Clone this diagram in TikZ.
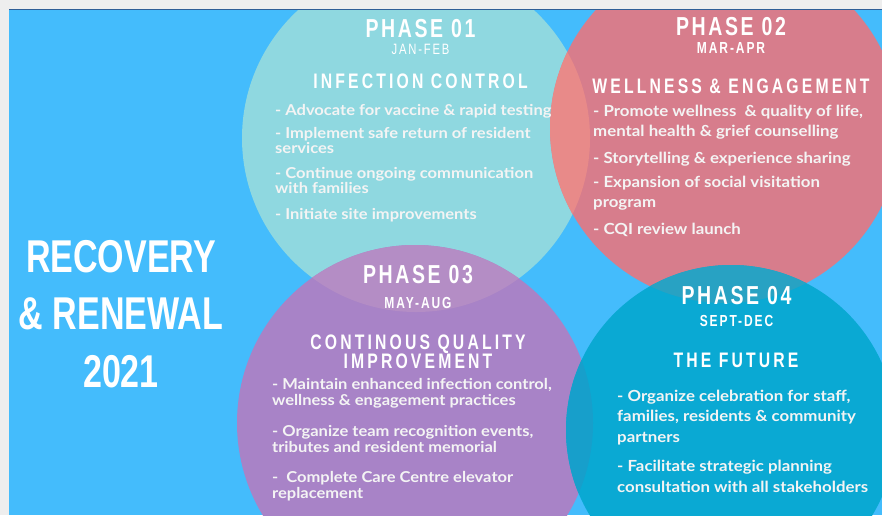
\documentclass[tikz,border=0pt]{standalone}
\usepackage{fontspec}
\setmainfont[FakeStretch=1.1]{Lato}
\newfontfamily\titlefont[FakeStretch=0.74]{Liberation Sans}
\newfontfamily\phasefont[FakeStretch=0.75,LetterSpace=10]{Liberation Sans}
\newfontfamily\datefont[FakeStretch=0.75,LetterSpace=12]{Liberation Sans}
\newfontfamily\subfont[FakeStretch=0.75,LetterSpace=15]{Liberation Sans}
\definecolor{framegray}{HTML}{EEEEEE}
\definecolor{topline}{HTML}{2F5E96}
\definecolor{bgblue}{HTML}{44BCFC}
\definecolor{cteal}{HTML}{8FD8E0}
\definecolor{cpink}{HTML}{D77D8C}
\definecolor{ctp}{HTML}{E88A89}
\definecolor{cpurple}{HTML}{A883C7}
\definecolor{ctu}{HTML}{B48DC5}
\definecolor{cblue}{HTML}{0AA9D3}
\definecolor{cpb}{HTML}{28A2C3}
\definecolor{cub}{HTML}{179FCB}
\definecolor{bodywhite}{HTML}{F4F4F4}
\tikzset{
  body/.style={anchor=base west, text=bodywhite, inner sep=0pt, align=left},
  bodyA/.style={body, font=\bfseries\fontsize{15}{12.5}\selectfont},
  bodyB/.style={body, font=\bfseries\fontsize{15.3}{20}\selectfont},
  bodyC/.style={body, font=\bfseries\fontsize{15}{16}\selectfont},
  bodyD/.style={body, font=\bfseries\fontsize{15.3}{20.5}\selectfont},
  phasehead/.style={anchor=base, text=white, inner sep=0pt, font=\phasefont\bfseries\fontsize{26}{26}\selectfont},
  datehead/.style={anchor=base, text=white, inner sep=0pt, font=\datefont\bfseries\fontsize{16}{16}\selectfont},
  datelight/.style={anchor=base, text=white, inner sep=0pt, font=\datefont\fontsize{15}{15}\selectfont},
  subhead/.style={anchor=base, text=white, inner sep=0pt, align=center, font=\subfont\bfseries\fontsize{21}{19}\selectfont},
}
\begin{document}
\begin{tikzpicture}[x=1pt,y=-1pt]
\useasboundingbox (0,0) rectangle (882,515);
\fill[framegray] (0,0) rectangle (882,515);
\fill[bgblue] (9,9) rectangle (882,515);
\begin{scope}
  \clip (9,9) rectangle (882,515);
  \fill[cteal] (416,138) circle[radius=174pt];
  \fill[cpink] (725,128) circle[radius=175pt];
  \begin{scope}
    \clip (416,138) circle[radius=174pt];
    \fill[ctp] (725,128) circle[radius=175pt];
  \end{scope}
  \fill[cpurple] (415,423) circle[radius=178pt];
  \begin{scope}
    \clip (416,138) circle[radius=174pt];
    \fill[ctu] (415,423) circle[radius=178pt];
  \end{scope}
  \fill[cblue] (731,430) circle[radius=165pt];
  \begin{scope}
    \clip (725,128) circle[radius=175pt];
    \fill[cpb] (731,430) circle[radius=165pt];
  \end{scope}
  \begin{scope}
    \clip (415,423) circle[radius=178pt];
    \fill[cub] (731,430) circle[radius=165pt];
  \end{scope}
\end{scope}
\draw[topline, line width=1pt] (9,9) -- (882,9);

% title (anchor = baseline of last line)
\node[anchor=base, text=white, inner sep=0pt, align=center,
  font=\titlefont\bfseries\fontsize{46}{57.5}\selectfont] (title) at (121,387)
  {RECOVERY\\\& RENEWAL\\2021};

% phase 01
\node[phasehead] (p1) at (420.5,37) {PHASE 01};
\node[datelight] (d1) at (420.5,54) {JAN-FEB};
\node[subhead] (s1) at (420.5,88) {INFECTION CONTROL};
\node[bodyA] (b11) at (275,115) {- Advocate for vaccine \& rapid testing};
\node[bodyA] (b12) at (275,153.5) {- Implement safe return of resident\\services};
\node[bodyA] (b13) at (275,193) {- Continue ongoing communication\\with families};
\node[bodyA] (b14) at (275,219) {- Initiate site improvements};

% phase 02
\node[phasehead] (p2) at (731,35) {PHASE 02};
\node[datehead] (d2) at (731,53) {MAR-APR};
\node[subhead] (s2) at (731,93) {WELLNESS \& ENGAGEMENT};
\node[bodyB] (b21) at (593,136) {- Promote wellness\ \ \& quality of life,\\mental health \& grief counselling};
\node[bodyB] (b22) at (593,163) {- Storytelling \& experience sharing};
\node[bodyB] (b23) at (593,207) {- Expansion of social visitation\\program};
\node[bodyB] (b24) at (593,234) {- CQI review launch};

% phase 03
\node[phasehead] (p3) at (418,283) {PHASE 03};
\node[datehead] (d3) at (418,308) {MAY-AUG};
\node[subhead] (s3) at (418,368) {CONTINOUS QUALITY\\IMPROVEMENT};
\node[bodyC] (b31) at (272,405) {- Maintain enhanced infection control,\\wellness \& engagement practices};
\node[bodyC] (b32) at (272,452) {- Organize team recognition events,\\tributes and resident memorial};
\node[bodyC] (b33) at (272,498) {-\ \ Complete Care Centre elevator\\replacement};

% phase 04
\node[phasehead] (p4) at (736.5,304) {PHASE 04};
\node[datehead] (d4) at (736.5,326) {SEPT-DEC};
\node[subhead] (s4) at (736,367) {THE FUTURE};
\node[bodyD] (b41) at (617,442) {- Organize celebration for staff,\\families, residents \& community\\partners};
\node[bodyD] (b42) at (617,492) {- Facilitate strategic planning\\consultation with all stakeholders};
\end{tikzpicture}
\end{document}
